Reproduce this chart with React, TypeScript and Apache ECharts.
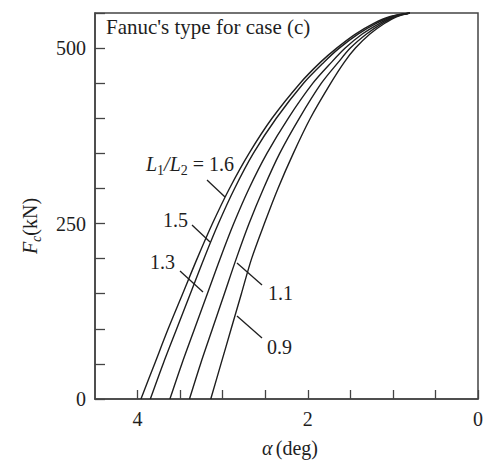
import React, { useEffect, useRef } from "react";
import * as echarts from "echarts";

const forceLevels = [0, 50, 100, 150, 200, 250, 300, 350, 400, 450, 480, 500, 520, 535, 545, 550];
const ratioNames = ["1.6", "1.5", "1.3", "1.1", "0.9"];
const alpha16 = [3.96, 3.8, 3.64, 3.47, 3.3, 3.12, 2.92, 2.69, 2.42, 2.09, 1.85, 1.66, 1.44, 1.23, 1.03, 0.8];
const alpha15 = [3.85, 3.7, 3.54, 3.38, 3.22, 3.05, 2.86, 2.64, 2.37, 2.05, 1.81, 1.63, 1.41, 1.2, 1.01, 0.8];
const alpha13 = [3.62, 3.48, 3.33, 3.18, 3.03, 2.87, 2.69, 2.48, 2.23, 1.94, 1.72, 1.56, 1.36, 1.16, 0.99, 0.8];
const alpha11 = [3.39, 3.26, 3.12, 2.98, 2.84, 2.69, 2.52, 2.33, 2.1, 1.84, 1.64, 1.5, 1.31, 1.13, 0.97, 0.8];
const alpha09 = [3.14, 3.02, 2.9, 2.78, 2.66, 2.51, 2.35, 2.17, 1.97, 1.73, 1.57, 1.44, 1.27, 1.1, 0.95, 0.8];
const xTickLabels = [0, 2, 4];
const yTickLabels = [0, 250, 500];

const FONT = "'Liberation Serif', 'DejaVu Serif', serif";
const INK = "#1e1e1e";

export default function App() {
  const ref = useRef<HTMLDivElement>(null);
  useEffect(() => {
    if (!ref.current) return;
    const chart = echarts.init(ref.current, undefined, { renderer: "svg" });
    const curves = [alpha16, alpha15, alpha13, alpha11, alpha09];
    const series = curves.map((arr, i) => ({
      type: "line",
      name: ratioNames[i],
      data: arr.map((a, j) => [a, forceLevels[j]]),
      smooth: 0.3,
      showSymbol: false,
      lineStyle: { color: INK, width: 1.4 },
      clip: true,
    }));
    const leader = (x1: number, y1: number, x2: number, y2: number) => ({
      type: "line",
      shape: { x1, y1, x2, y2 },
      style: { stroke: INK, lineWidth: 1.3 },
    });
    const label = (x: number, y: number, text: string) => ({
      type: "text",
      x,
      y,
      style: {
        text,
        font: `20px ${FONT}`,
        fill: INK,
        textVerticalAlign: "middle",
      },
    });
    chart.setOption({
      animation: false,
      grid: {
        left: 95,
        right: 5,
        top: 13,
        bottom: 61,
        show: true,
        borderColor: "#444",
        borderWidth: 1.5,
      },
      xAxis: {
        type: "value",
        min: 0,
        max: 4.5,
        interval: 0.5,
        inverse: true,
        axisLine: { onZero: false, lineStyle: { color: "#444", width: 1.5 } },
        axisTick: { inside: true, length: 9, lineStyle: { color: "#444", width: 1.3 } },
        splitLine: { show: false },
        axisLabel: {
          color: INK,
          fontFamily: FONT,
          fontSize: 20,
          margin: 10,
          showMaxLabel: false,
          formatter: (v: number) => (xTickLabels.includes(v) ? String(v) : ""),
        },
      },
      yAxis: {
        type: "value",
        min: 0,
        max: 550,
        interval: 50,
        axisLine: { show: true, onZero: false, lineStyle: { color: "#444", width: 1.5 } },
        axisTick: { show: true, inside: true, length: 10, lineStyle: { color: "#444", width: 1.3 } },
        splitLine: { show: false },
        axisLabel: {
          color: INK,
          fontFamily: FONT,
          fontSize: 20,
          margin: 9,
          formatter: (v: number) => (yTickLabels.includes(v) ? String(v) : ""),
        },
      },
      series,
      graphic: [
        {
          type: "text",
          x: 106,
          y: 27,
          style: {
            text: "Fanuc's type for case (c)",
            font: `21px ${FONT}`,
            fill: INK,
            textVerticalAlign: "middle",
          },
        },
        {
          type: "text",
          x: 146,
          y: 164,
          style: {
            text: "{i|L}{s|1}{i|/L}{s|2}{n| = 1.6}",
            fill: INK,
            rich: {
              i: { fontFamily: FONT, fontSize: 20, fontStyle: "italic", lineHeight: 26, fill: INK },
              s: { fontFamily: FONT, fontSize: 14, lineHeight: 14, verticalAlign: "bottom", fill: INK },
              n: { fontFamily: FONT, fontSize: 20, lineHeight: 26, fill: INK },
            },
            textVerticalAlign: "middle",
          },
        },
        leader(207, 180, 225, 197),
        label(163, 220, "1.5"),
        leader(192, 225, 210, 242),
        label(150, 262, "1.3"),
        leader(180, 271, 203, 292),
        label(268, 293, "1.1"),
        leader(237, 263, 262, 285),
        label(267, 347, "0.9"),
        leader(237, 316, 262, 338),
        {
          type: "text",
          x: 290,
          y: 448,
          style: {
            text: "{g|α} {n|(deg)}",
            textAlign: "center",
            textVerticalAlign: "middle",
            rich: {
              g: { fontFamily: FONT, fontSize: 20, fontStyle: "italic", fill: INK },
              n: { fontFamily: FONT, fontSize: 20, fill: INK },
            },
          },
        },
        {
          type: "text",
          x: 30,
          y: 226,
          rotation: Math.PI / 2,
          style: {
            text: "{i|F}{s|c}{n|(kN)}",
            textAlign: "center",
            textVerticalAlign: "middle",
            rich: {
              i: { fontFamily: FONT, fontSize: 20, fontStyle: "italic", lineHeight: 26, fill: INK },
              s: { fontFamily: FONT, fontSize: 14, fontStyle: "italic", lineHeight: 14, verticalAlign: "bottom", fill: INK },
              n: { fontFamily: FONT, fontSize: 20, lineHeight: 26, fill: INK },
            },
          },
        },
      ],
    });
    return () => chart.dispose();
  }, []);
  return (
    <div
      ref={ref}
      style={{ position: "absolute", left: 0, top: 0, width: 486, height: 460, background: "#fff" }}
    />
  );
}
